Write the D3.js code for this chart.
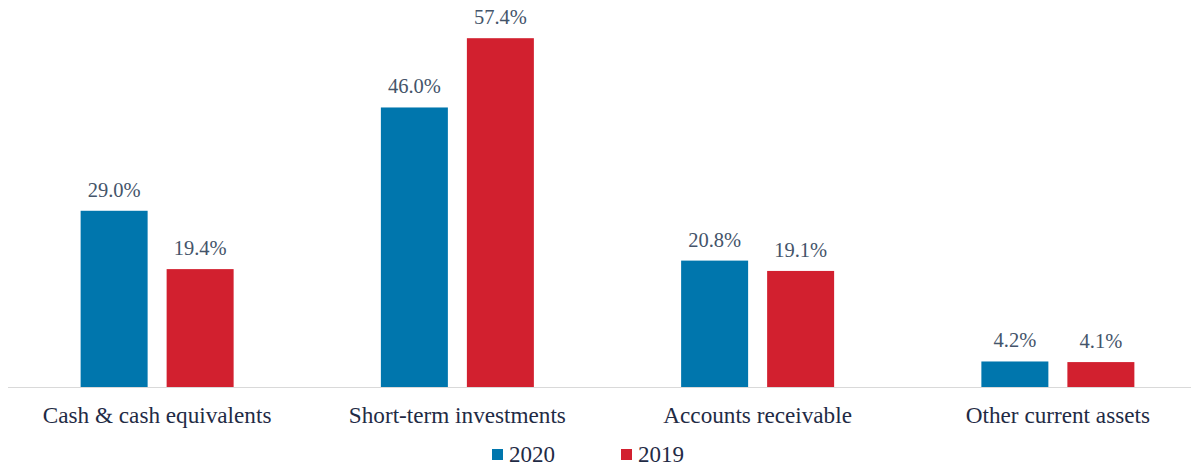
<!DOCTYPE html>
<html lang="en">
<head>
    <meta charset="UTF-8">
    <title>Current assets</title>
    <style>
        body { margin: 0; background: #fff; }
        svg text { font-family: "Liberation Serif", "Times New Roman", serif; }
    </style>
</head>
<body>
    <div id="chart"></div>
    <script src="https://d3js.org/d3.v7.min.js"></script>
    <script>
        const categories = ["Cash & cash equivalents", "Short-term investments", "Accounts receivable", "Other current assets"];
        const years = ["2020", "2019"];
        const values2020 = [29.0, 46.0, 20.8, 4.2];
        const values2019 = [19.4, 57.4, 19.1, 4.1];
        const colors = ["#0076AD", "#D2202F"];

        const width = 1199, height = 466;
        const baseY = 387;

        const svg = d3.select("#chart").append("svg")
            .attr("width", width)
            .attr("height", height);

        const x = d3.scaleBand()
            .domain(categories)
            .range([7, 1208]);

        // two bars per group, 67px wide with a 19px gap
        const inner = d3.scaleBand()
            .domain(years)
            .range([-76.5, 76.5])
            .paddingInner(0.221)
            .paddingOuter(0);

        const y = d3.scaleLinear()
            .domain([0, 60])
            .range([baseY, baseY - 364.6]);

        const rows = categories.flatMap((c, i) => [
            { cat: c, year: "2020", v: values2020[i] },
            { cat: c, year: "2019", v: values2019[i] }
        ]);

        // baseline
        svg.append("line")
            .attr("x1", 8).attr("x2", 1191)
            .attr("y1", baseY + 0.5).attr("y2", baseY + 0.5)
            .attr("stroke", "#D9D9D9")
            .attr("stroke-width", 1);

        const cx = c => x(c) + x.bandwidth() / 2;

        svg.selectAll("rect.bar")
            .data(rows)
            .enter().append("rect")
            .attr("class", "bar")
            .attr("x", d => cx(d.cat) + inner(d.year))
            .attr("width", inner.bandwidth())
            .attr("y", d => y(d.v))
            .attr("height", d => y(0) - y(d.v))
            .attr("fill", d => colors[years.indexOf(d.year)]);

        svg.selectAll("text.val")
            .data(rows)
            .enter().append("text")
            .attr("class", "val")
            .attr("x", d => cx(d.cat) + inner(d.year) + inner.bandwidth() / 2)
            .attr("y", d => y(d.v) - 14)
            .attr("text-anchor", "middle")
            .attr("font-size", 20.5)
            .attr("fill", "#44546A")
            .text(d => d.v.toFixed(1) + "%");

        svg.selectAll("text.cat")
            .data(categories)
            .enter().append("text")
            .attr("class", "cat")
            .attr("x", d => cx(d))
            .attr("y", 423)
            .attr("text-anchor", "middle")
            .attr("font-size", 23.2)
            .attr("fill", "#1F2B45")
            .text(d => d);

        // legend
        const legendX = [492, 621];
        const lg = svg.selectAll("g.lg")
            .data(years)
            .enter().append("g")
            .attr("class", "lg")
            .attr("transform", (d, i) => `translate(${legendX[i]},449)`);
        lg.append("rect")
            .attr("width", 11).attr("height", 11)
            .attr("fill", (d, i) => colors[i]);
        lg.append("text")
            .attr("x", 17).attr("y", 13)
            .attr("font-size", 23)
            .attr("fill", "#1F2B45")
            .text(d => d);
    </script>
</body>
</html>
